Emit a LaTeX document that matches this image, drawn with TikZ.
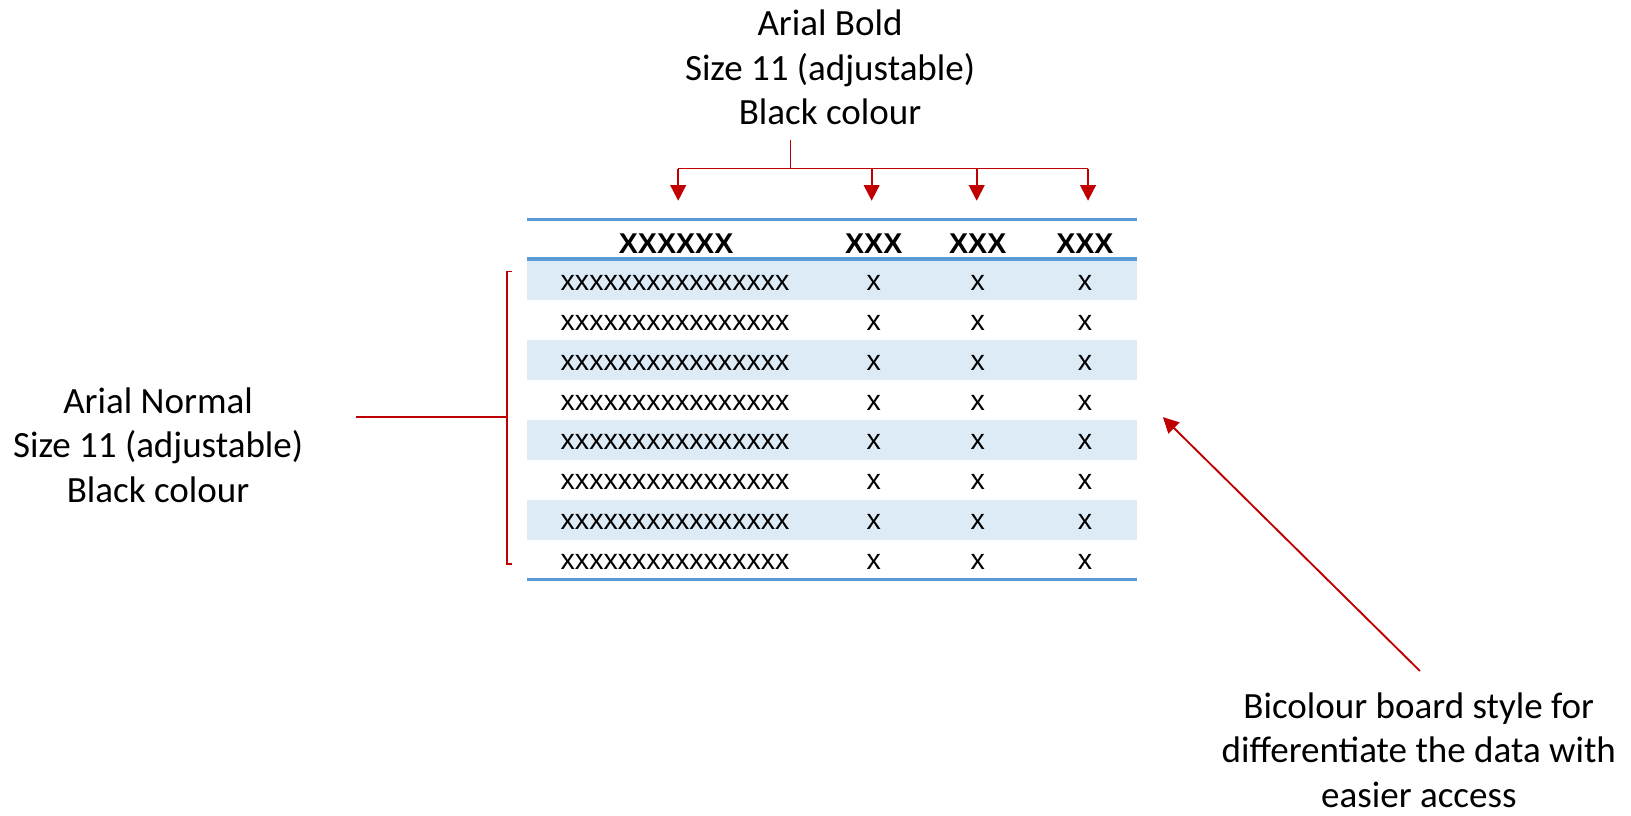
\documentclass[tikz,border=0pt]{standalone}
\usepackage{fontspec}
\setmainfont{Carlito}
\newfontfamily\tabfont{Liberation Sans}
\usetikzlibrary{arrows.meta}
\definecolor{annred}{HTML}{C00000}
\definecolor{rulebl}{HTML}{5B9BD5}
\definecolor{rowbl}{HTML}{DDEBF7}
\tikzset{
  anntext/.style={align=center,inner sep=0pt,font=\fontsize{17.8}{21.4}\selectfont},
  annline/.style={draw=annred,line width=0.9pt},
  annarrow/.style={annline,-{Triangle[length=7.5pt,width=7.5pt]}},
  tabrule/.style={draw=rulebl,line width=1.5pt},
  cell/.style={anchor=base,inner sep=0pt,font=\tabfont\fontsize{13.75}{16}\selectfont},
  hcell/.style={cell,font=\tabfont\bfseries\fontsize{13.75}{16}\selectfont},
}
\begin{document}
\begin{tikzpicture}[x=0.5pt,y=-0.5pt]
\useasboundingbox (0,0) rectangle (1568,784);
% annotations
\node[anntext] (top) at (798,65) {Arial Bold\\Size 11 (adjustable)\\Black colour};
\node[anntext] (left) at (152,428) {Arial Normal\\Size 11 (adjustable)\\Black colour};
\node[anntext] (br) at (1364,721) {Bicolour board style for\\differentiate the data with\\easier access};
% table shading
\foreach \i in {1,3,5,7} {
  \fill[rowbl] (507,{250+38.4*(\i-1)}) rectangle (1093,{250+38.4*\i});
}
\draw[tabrule] (507,211) -- (1093,211);
\draw[tabrule] (507,249) -- (1093,249);
\draw[tabrule] (507,557) -- (1093,557);
% header
\node[hcell] (h1) at (650,244) {XXXXXX};
\node[hcell] (h2) at (840,244) {XXX};
\node[hcell] (h3) at (940,244) {XXX};
\node[hcell] (h4) at (1043,244) {XXX};
% rows
\foreach \i in {1,...,8} {
  \node[cell] (r\i c1) at (649,{250+38.4*(\i-1)+29}) {xxxxxxxxxxxxxxxx};
  \node[cell] (r\i c2) at (840,{250+38.4*(\i-1)+29}) {x};
  \node[cell] (r\i c3) at (940,{250+38.4*(\i-1)+29}) {x};
  \node[cell] (r\i c4) at (1043,{250+38.4*(\i-1)+29}) {x};
}
% top connectors
\coordinate (ts) at (760,135);
\coordinate (tj) at (760,162);
\coordinate (a1) at (652,193);
\coordinate (a2) at (838,193);
\coordinate (a3) at (939,193);
\coordinate (a4) at (1046,193);
\draw[annline] (ts) -- (tj);
\draw[annline] (a1 |- tj) -- (a4 |- tj);
\foreach \k in {1,2,3,4} {
  \draw[annarrow] (a\k |- tj) -- (a\k);
}
% left bracket
\coordinate (bt) at (487,261);
\coordinate (bb) at (487,542);
\coordinate (bm) at (487,401);
\coordinate (ls) at (342,401);
\draw[annline] (492,261) -- (bt) -- (bb) -- (492,542);
\draw[annline] (ls) -- (bm);
% diagonal arrow
\coordinate (ds) at (1365,645);
\coordinate (de) at (1118,401);
\draw[annarrow] (ds) -- (de);
\end{tikzpicture}
\end{document}
